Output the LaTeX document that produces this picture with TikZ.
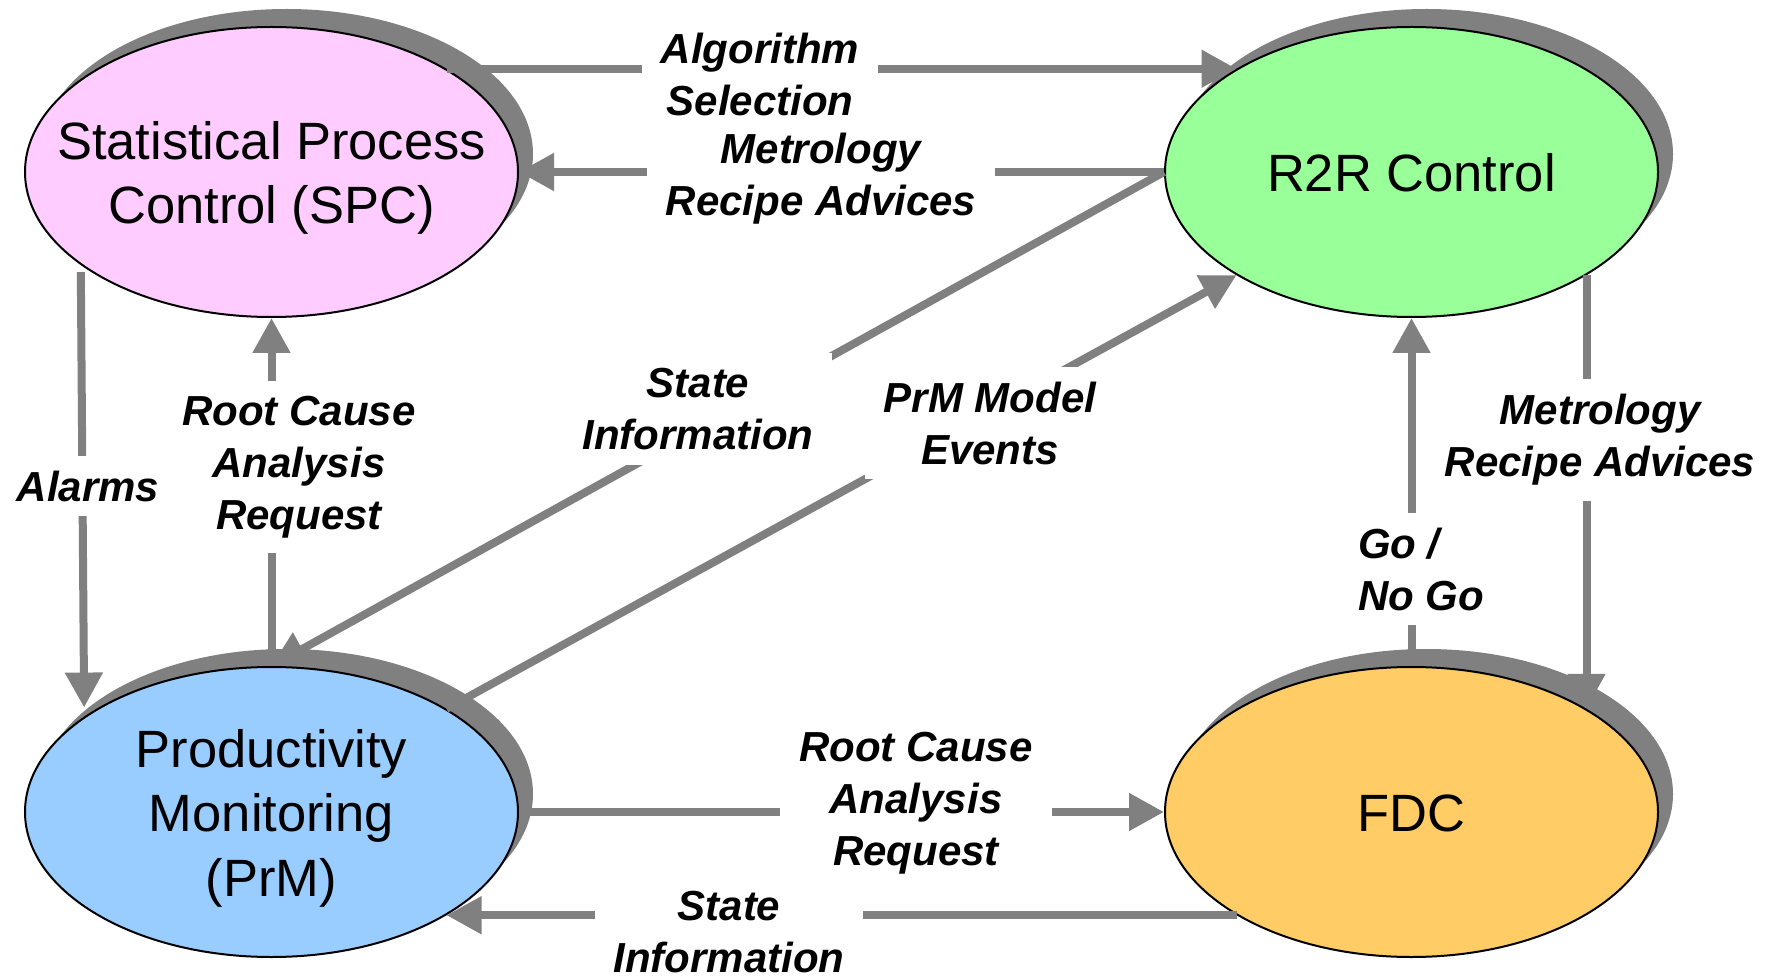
\documentclass[tikz,border=0pt]{standalone}
\usepackage{fontspec}
\setmainfont{Liberation Sans}
\usetikzlibrary{shapes.geometric,shadows,arrows.meta}
\definecolor{cgray}{RGB}{128,128,128}
\definecolor{spcfill}{RGB}{255,204,255}
\definecolor{rrfill}{RGB}{153,255,153}
\definecolor{prmfill}{RGB}{153,204,255}
\definecolor{fdcfill}{RGB}{255,204,102}
\begin{document}
\begin{tikzpicture}[x=1pt,y=-1pt,
  ell/.style={ellipse, draw=black, line width=2pt, minimum width=493pt, minimum height=290pt, inner sep=0pt,
    drop shadow={shadow xshift=15pt, shadow yshift=18pt, fill=cgray, opacity=1}},
  ntext/.style={font=\fontsize{52.5}{64.5}\selectfont, align=center, inner sep=0pt, yshift=-6pt},
  conn/.style={draw=cgray, line width=8pt},
  arr/.style={conn, -{Triangle[length=35pt,width=36pt]}},
  lab/.style={font=\fontsize{42}{52}\selectfont\bfseries\itshape, fill=white, align=center, inner xsep=19pt, inner ysep=15pt}]
\useasboundingbox (0,0) rectangle (1765,976);

% ellipses
\node[ell, fill=spcfill] (spc) at (271.5,172) {};
\node[ell, fill=rrfill]  (r2r) at (1411.5,172) {};
\node[ell, fill=prmfill] (prm) at (271.5,812) {};
\node[ell, fill=fdcfill] (fdc) at (1411.5,812) {};

% connectors
\draw[arr] (spc.north east) -- (r2r.north west);
\draw[arr] (r2r.west) -- (spc.east);
\draw[arr, shorten <=7pt, shorten >=9pt] (spc.206.94) -- (prm.153.06);
\draw[arr] (prm.north) -- (spc.south);
\draw[arr] (r2r.west) -- (prm.north);
\draw[arr] (prm.north east) -- (r2r.south west);
\draw[arr] (r2r.south east) -- (fdc.north east);
\draw[arr] (fdc.north) -- (r2r.south);
\draw[arr] (prm.east) -- (fdc.west);
\draw[arr] (fdc.south west) -- (prm.south east);

% texts in ellipses
\node[ntext] (spct) at (spc.center) {Statistical Process\\Control (SPC)};
\node[ntext, yshift=5pt] (r2rt) at (r2r.center) {R2R Control};
\node[ntext] (prmt) at (prm.center) {Productivity\\Monitoring\\(PrM)};
\node[ntext, yshift=5pt] (fdct) at (fdc.center) {FDC};

% connector labels
\node[lab] (l2) at (821,179) {Metrology\\Recipe Advices};
\node[lab] (l1) at (760,74) {Algorithm\\Selection};
\node[lab] (l3) at (88,486) {Alarms};
\node[lab] (l4) at (299,467) {Root Cause\\Analysis\\Request};
\node[lab] (l5) at (698,409) {State\\Information};
\node[lab] (l6) at (990,423) {PrM Model\\Events};
\node[lab] (l7) at (1600,440) {Metrology\\Recipe Advices};
\node[lab, align=left] (l8) at (1421,569) {Go /\\No Go};
\node[lab] (l9) at (916,803) {Root Cause\\Analysis\\Request};
\node[lab] (l10) at (729,932) {State\\Information};
\end{tikzpicture}
\end{document}
